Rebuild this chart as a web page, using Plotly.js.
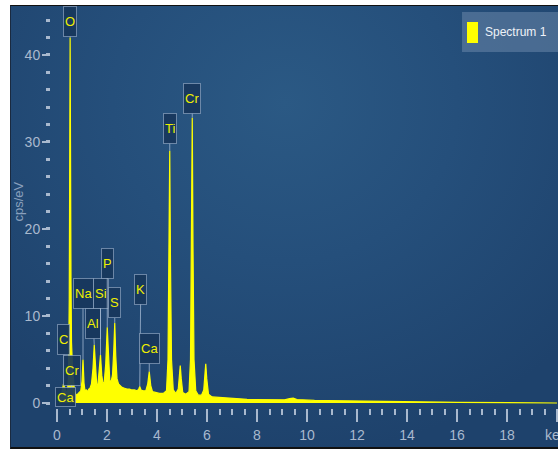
<!DOCTYPE html>
<html>
<head>
<meta charset="utf-8">
<script src="https://cdn.plot.ly/plotly-3.0.1.min.js"></script>
<style>
  html, body { margin: 0; padding: 0; background: #ffffff; width: 558px; height: 449px; overflow: hidden; }
  #panel { position: absolute; left: 10px; top: 5px; width: 548px; height: 441px;
    border-top: 1px solid #111; border-left: 1px solid #1a2a40; border-bottom: 2px solid #111;
    background: radial-gradient(ellipse 70% 80% at 50% 22%, #2b5984 0%, #254f7b 45%, #1e426c 100%); }
  #chart { position: absolute; left: 0; top: 0; width: 558px; height: 449px; }
</style>
</head>
<body>
<div id="panel"></div>
<div id="chart"></div>
<script>
// Spectrum data (keV, cps/eV)
const energy = [0.10,0.14,0.18,0.22,0.26,0.30,0.34,0.38,0.42,0.46,0.49,0.51,0.525,0.54,0.56,0.58,0.62,0.66,0.70,0.75,
  0.80,0.85,0.90,0.95,1.00,1.04,1.08,1.12,1.17,1.22,1.27,1.32,1.38,1.44,1.49,1.54,1.59,1.64,1.69,1.74,
  1.79,1.84,1.89,1.95,2.01,2.06,2.11,2.16,2.22,2.27,2.31,2.35,2.40,2.46,2.52,2.60,2.70,2.80,2.90,3.00,
  3.10,3.20,3.27,3.31,3.36,3.45,3.55,3.63,3.69,3.75,3.82,3.95,4.10,4.25,4.38,4.44,4.48,4.51,4.54,4.58,
  4.65,4.75,4.85,4.90,4.93,4.97,5.03,5.15,5.28,5.34,5.38,5.41,5.44,5.48,5.55,5.65,5.78,5.87,5.92,5.95,
  5.99,6.06,6.2,6.4,6.6,6.8,7.0,7.3,7.6,7.9,8.2,8.5,8.8,9.1,9.3,9.45,9.6,9.9,10.3,10.8,
  11.3,11.8,12.4,13.0,13.6,14.2,14.8,15.4,16.0,16.6,17.2,17.8,18.4,19.0,20.0];
const counts = [0,0.4,1.0,1.6,2.2,1.8,1.5,1.2,1.4,3.0,12,30,42,30,14,7,4,2.2,1.4,1.0,
  0.9,1.1,1.2,1.4,2.5,5.0,2.3,1.4,1.5,1.3,1.6,1.7,2.2,4.0,6.7,3.8,2.0,2.2,3.5,5.5,
  3.2,2.2,2.4,4.5,8.7,4.6,2.6,2.4,3.2,6.0,9.2,5.4,2.8,2.2,2.0,1.8,1.7,1.6,1.6,1.5,
  1.5,1.4,1.6,1.9,1.5,1.4,1.4,2.2,3.6,2.0,1.3,1.2,1.1,1.1,1.4,5,16,29,16,5,
  1.5,1.1,1.6,3.2,4.3,2.8,1.2,1.0,1.3,5,18,32.8,18,5,1.4,0.9,0.9,1.5,3.4,4.5,
  2.8,1.0,0.7,0.65,0.6,0.55,0.5,0.45,0.42,0.4,0.38,0.36,0.35,0.36,0.5,0.55,0.4,0.33,0.3,0.28,
  0.25,0.22,0.2,0.18,0.15,0.13,0.11,0.09,0.07,0.05,0.03,0.02,0.01,0,0];

// Element labels: name, energy (keV), pointer value (cps/eV)
const labelNames   = ['O','C','Cr','Ca','Na','Al','Si','P','S','K','Ca','Ti','Cr'];
const labelEnergy  = [0.525,0.277,0.573,0.32,1.04,1.49,1.74,2.01,2.31,3.31,3.69,4.51,5.41];
const labelValue   = [42,2.0,1.0,0.7,5.0,6.7,5.5,8.7,9.2,1.9,3.6,29,32.8];

// Axis ticks and titles
const xTickVals = [0,2,4,6,8,10,12,14,16,18,20];
const xTickText = ['0','2','4','6','8','10','12','14','16','18','keV'];
const yTickVals = [0,10,20,30,40];
const yTickText = ['0','10','20','30','40'];
const yTitle = 'cps/eV';
const seriesName = 'Spectrum 1';

// Layout-only settings for the label boxes (pixel offsets of box from pointer tip)
const labelBoxOffsets = [[0,-16],[0,-46],[1,-24],null,[0,-66],[-1,-21],[0,-62],[0,-64],[0,-20],[1,-97],[0,-23],[0,-22],[0,-19]];

const FONT = '"Liberation Sans Narrow", "Liberation Sans", Arial, sans-serif';
const tickCol = '#a9b9ce';

const annotations = labelNames.map((n, i) => {
  const off = labelBoxOffsets[i];
  const base = {
    x: labelEnergy[i], y: labelValue[i], xref: 'x', yref: 'y',
    text: n, font: {family: FONT, size: 13, color: '#f0f000'},
    bgcolor: 'rgba(24,55,92,0.92)', bordercolor: 'rgba(150,172,200,0.65)',
    borderwidth: 1, borderpad: 1, height: off ? 27 : 16, valign: 'middle'
  };
  if (off) {
    return Object.assign(base, {showarrow: true, arrowhead: 0, arrowwidth: 1,
      arrowcolor: 'rgba(170,190,215,0.75)', ax: off[0], ay: off[1], standoff: 0});
  }
  return Object.assign(base, {showarrow: false});
});

// Legend text
annotations.push({xref: 'paper', yref: 'paper', x: 0.852, y: 0.9353, xanchor: 'left', yanchor: 'middle',
  text: seriesName, showarrow: false, font: {family: FONT, size: 12, color: '#eef2f8'}});
// Y-axis title
annotations.push({xref: 'paper', yref: 'paper', x: -0.0641, y: 0.5124, xanchor: 'center', yanchor: 'middle',
  text: yTitle, textangle: -90, showarrow: false, font: {family: FONT, size: 13, color: '#8aa0bd'}});

const layout = {
  width: 558, height: 449,
  margin: {l: 51, r: 0, t: 6, b: 41, pad: 0},
  paper_bgcolor: 'rgba(0,0,0,0)', plot_bgcolor: 'rgba(0,0,0,0)',
  showlegend: false,
  xaxis: {
    range: [-0.24, 20.04], showgrid: false, zeroline: false, showline: false,
    tickmode: 'array', tickvals: xTickVals, ticktext: xTickText,
    ticks: 'outside', ticklen: 13, tickwidth: 2, tickcolor: tickCol,
    ticklabeloverflow: 'allow', ticklabelstandoff: 1,
    minor: {dtick: 0.5, tick0: 0, ticks: 'outside', ticklen: 6, tickwidth: 2, tickcolor: tickCol, showgrid: false},
    tickfont: {family: FONT, size: 14, color: tickCol}
  },
  yaxis: {
    range: [-0.575, 45.63], showgrid: false, zeroline: false, showline: false,
    tickmode: 'array', tickvals: yTickVals, ticktext: yTickText,
    ticks: 'outside', ticklen: 8, tickwidth: 2, tickcolor: tickCol, ticklabelstandoff: -1,
    minor: {dtick: 2, tick0: 0, ticks: 'outside', ticklen: 4, tickwidth: 3, tickcolor: tickCol, showgrid: false},
    tickfont: {family: FONT, size: 14, color: tickCol}
  },
  shapes: [
    {type: 'rect', xref: 'paper', yref: 'paper', x0: 0.8107, x1: 1.01, y0: 0.8856, y1: 0.985,
     fillcolor: 'rgba(105,135,170,0.55)', line: {width: 0}, layer: 'above'},
    {type: 'rect', xref: 'paper', yref: 'paper', x0: 0.8205, x1: 0.8422, y0: 0.9080, y1: 0.9602,
     fillcolor: '#ffff00', line: {width: 0}, layer: 'above'}
  ],
  annotations: annotations
};

const trace = {
  type: 'scatter', mode: 'lines', name: seriesName,
  x: energy, y: counts, fill: 'tozeroy', fillcolor: '#ffff00',
  line: {color: '#ffff00', width: 1.2}, cliponaxis: true
};

Plotly.newPlot('chart', [trace], layout, {displayModeBar: false, staticPlot: true});
</script>
</body>
</html>
